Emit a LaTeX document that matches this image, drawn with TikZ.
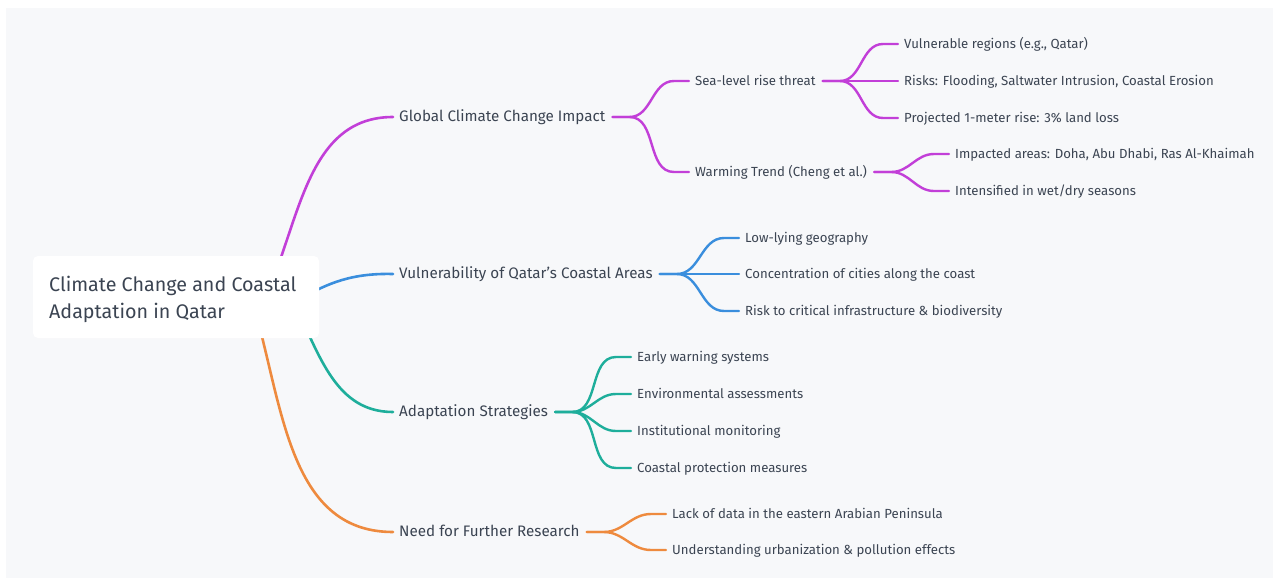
\documentclass[tikz,border=0pt]{standalone}
\usepackage{fontspec}
\setmainfont{Fira Sans}
\usetikzlibrary{calc}

\definecolor{paper}{HTML}{F7F8FA}
\definecolor{ink}{HTML}{3B4452}
\definecolor{cpurple}{HTML}{C23FD8}
\definecolor{cblue}{HTML}{3A8EDD}
\definecolor{cteal}{HTML}{1EAE9B}
\definecolor{corange}{HTML}{EE8A3E}

\tikzset{
  txt/.style={anchor=west, inner sep=0pt, text=ink, text height=1.85ex, text depth=0.3ex},
  topic/.style={txt, font=\fontsize{15.2}{18}\selectfont},
  leaf/.style={txt, font=\fontsize{13.2}{16}\selectfont},
  branch/.style={line width=2.6pt, line cap=round},
  twig/.style={line width=2.4pt, line cap=round},
}

\begin{document}
\begin{tikzpicture}[x=1pt,y=-1pt]
  \useasboundingbox (0,0) rectangle (1277,581);
  \fill[white] (0,0) rectangle (1277,581);
  \fill[paper] (6,8) rectangle (1273,578);

  % first-level topics
  \node[topic] (gcc) at (399,117) {Global Climate Change Impact};
  \node[topic] (vul) at (399,274) {Vulnerability of Qatar's Coastal Areas};
  \node[topic] (ada) at (399,412) {Adaptation Strategies};
  \node[topic] (res) at (399,532) {Need for Further Research};

  % second level
  \node[leaf] (slr) at (695,81)  {Sea-level rise threat};
  \node[leaf] (war) at (695,172) {Warming Trend (Cheng et al.)};

  \node[leaf] (slr1) at (904,44)  {Vulnerable regions (e.g., Qatar)};
  \node[leaf] (slr2) at (904,81)  {Risks: Flooding, Saltwater Intrusion, Coastal Erosion};
  \node[leaf] (slr3) at (904,118) {Projected 1-meter rise: 3\% land loss};

  \node[leaf] (war1) at (955,154) {Impacted areas: Doha, Abu Dhabi, Ras Al-Khaimah};
  \node[leaf] (war2) at (955,191) {Intensified in wet/dry seasons};

  \node[leaf] (vul1) at (745,238) {Low-lying geography};
  \node[leaf] (vul2) at (745,274) {Concentration of cities along the coast};
  \node[leaf] (vul3) at (745,311) {Risk to critical infrastructure \& biodiversity};

  \node[leaf] (ada1) at (637,357) {Early warning systems};
  \node[leaf] (ada2) at (637,394) {Environmental assessments};
  \node[leaf] (ada3) at (637,431) {Institutional monitoring};
  \node[leaf] (ada4) at (637,468) {Coastal protection measures};

  \node[leaf] (res1) at (672,514) {Lack of data in the eastern Arabian Peninsula};
  \node[leaf] (res2) at (672,550) {Understanding urbanization \& pollution effects};

  % branches leaving the central box (their roots hide behind it)
  \coordinate (rp) at (270,287);
  \coordinate (rb) at (300,299);
  \coordinate (rt) at (295,305);
  \coordinate (ro) at (252,300);
  \draw[branch, cpurple] (rp) .. controls (301,211) and (311,117) .. ($(gcc.west)+(-6,0)$);
  \draw[branch, cblue]   (rb) .. controls (328,283) and (352,273) .. ($(vul.west)+(-6,0)$);
  \draw[branch, cteal]   (rt) .. controls (320,356) and (336,412) .. ($(ada.west)+(-6,0)$);
  \draw[branch, corange] (ro) .. controls (283,402) and (287,532) .. ($(res.west)+(-6,0)$);

  % forks: short stub, S-curve, short run into the child
  \foreach \p/\c/\k in {gcc/slr/cpurple, gcc/war/cpurple,
                        slr/slr1/cpurple, slr/slr2/cpurple, slr/slr3/cpurple,
                        war/war1/cpurple, war/war2/cpurple,
                        vul/vul1/cblue, vul/vul2/cblue, vul/vul3/cblue,
                        ada/ada1/cteal, ada/ada2/cteal, ada/ada3/cteal, ada/ada4/cteal,
                        res/res1/corange, res/res2/corange}
    \draw[twig, \k] ($(\p.east)+(7,0)$) -- ++(17,0)
      to[out=0,in=180] ($(\c.west)+(-21,0)$) -- ($(\c.west)+(-6,0)$);

  % central box
  \node[fill=white, rounded corners=5pt, minimum width=286pt, minimum height=82pt,
        inner sep=0pt] (root) at (176,297) {};
  \node[anchor=west, inner sep=0pt, text=ink, align=left,
        font=\fontsize{19.7}{27}\selectfont] (roottxt) at (49,299)
        {Climate Change and Coastal\\Adaptation in Qatar};
\end{tikzpicture}
\end{document}
